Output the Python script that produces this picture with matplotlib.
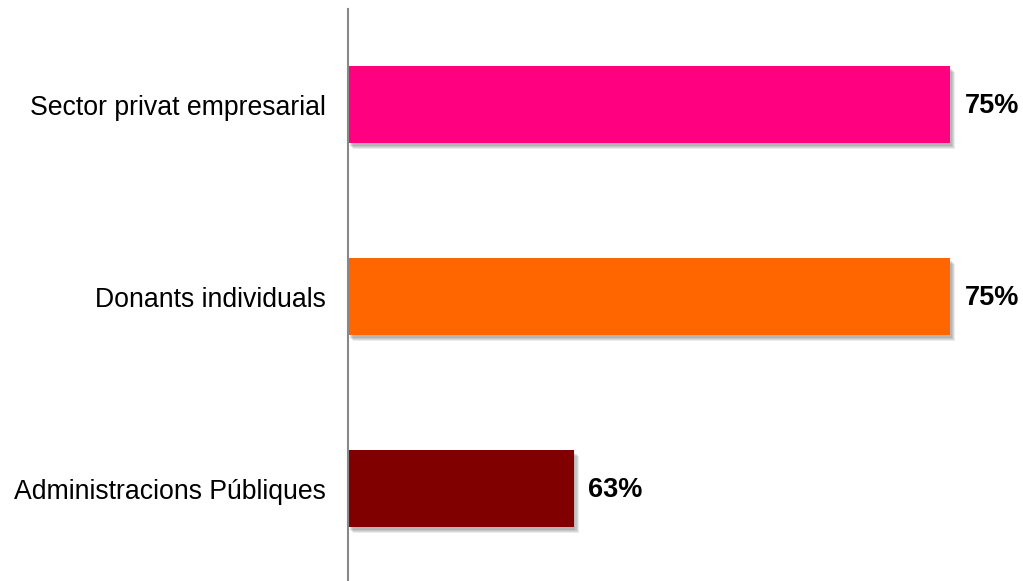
import matplotlib
matplotlib.use("Agg")
import matplotlib.pyplot as plt
import matplotlib.patheffects as pe

categories = ["Sector privat empresarial", "Donants individuals", "Administracions Públiques"]
values = [75.0, 75.0, 62.5]
labels = ["75%", "75%", "63%"]
colors = ["#FF0080", "#FF6600", "#800000"]

plt.rcParams['font.family'] = ['Liberation Sans', 'DejaVu Sans']

fig = plt.figure(figsize=(10.23, 5.81), dpi=100)
ax = fig.add_axes([348/1023, -3.5/581, 675/1023, 576/581])

xmin = 55
ypos = list(range(len(categories)))
bars = ax.barh(ypos, [v - xmin for v in values], left=xmin, height=0.4, color=colors)
shadow = [pe.SimplePatchShadow(offset=(o, -o - 1), shadow_rgbFace='#808080', alpha=a)
          for o, a in [(3.5, 0.15), (2.8, 0.18), (2.0, 0.22), (1.2, 0.22)]]
for b in bars:
    b.set_path_effects(shadow + [pe.Normal()])

for y, v, lab in zip(ypos, values, labels):
    ax.text(v + 0.48, y + 0.008, lab, va='center', ha='left', fontsize=19.5,
            fontweight='bold', color='black', clip_on=False)

ax.set_xlim(xmin, xmin + 675/30.1)
ax.set_ylim(len(categories) - 0.5, -0.5)
ax.set_yticks(ypos)
ax.set_yticklabels(categories, fontsize=19.2)
ax.tick_params(axis='y', length=0, pad=16)
ax.set_xticks([])
for s in ['top', 'right', 'bottom']:
    ax.spines[s].set_visible(False)
ax.spines['left'].set_color('#888888')
ax.spines['left'].set_linewidth(1.5)
ax.patch.set_alpha(0)

fig.savefig("out.png", dpi=100)
